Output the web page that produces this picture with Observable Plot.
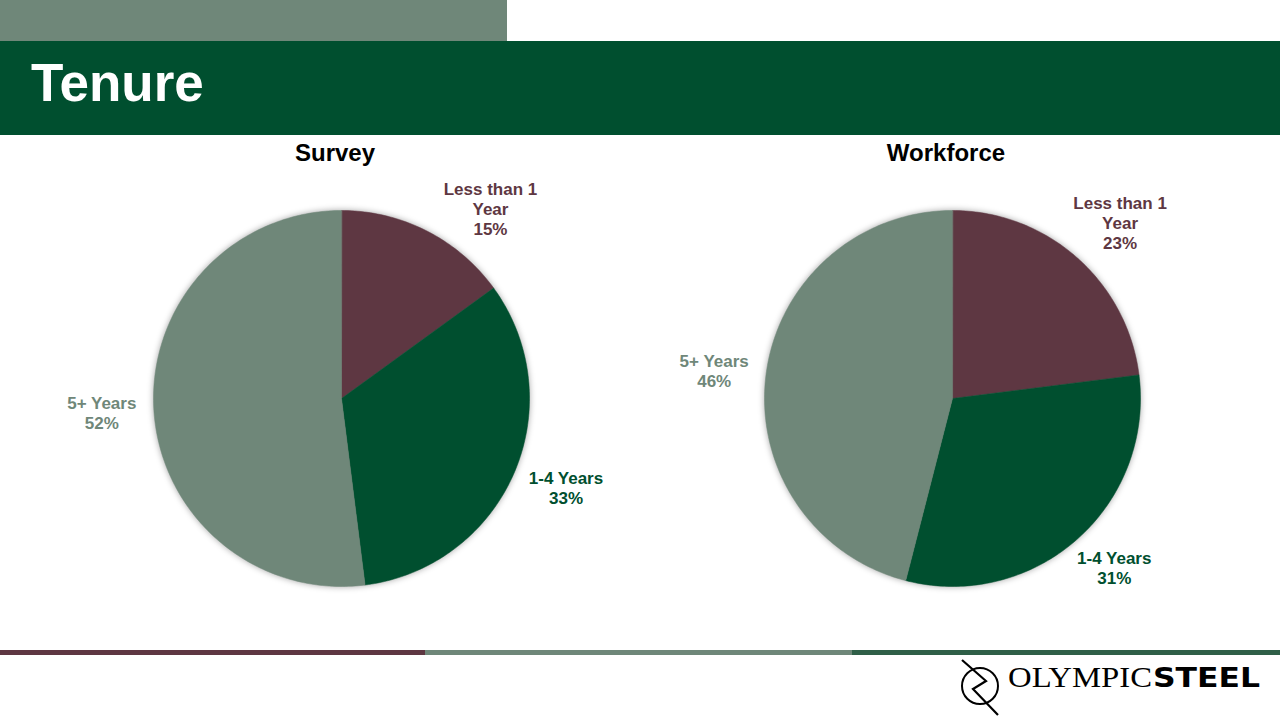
<!DOCTYPE html>
<html>
<head>
<meta charset="utf-8">
<script src="https://cdn.jsdelivr.net/npm/d3@7"></script>
<script src="https://cdn.jsdelivr.net/npm/@observablehq/plot@0.6"></script>
<style>
  html, body { margin: 0; padding: 0; background: #fff; }
  #slide { position: relative; width: 1280px; height: 720px; overflow: hidden; font-family: "Liberation Sans", Arial, sans-serif; }
  .abs { position: absolute; }
  #topbar { left: 0; top: 0; width: 507px; height: 41px; background: #6f8779; }
  #banner { left: 0; top: 41px; width: 1280px; height: 94px; background: #004f2f; }
  #title { left: 31px; top: 51px; color: #fff; font-weight: bold; font-size: 53px; line-height: 64px; }
  .ptitle { top: 138px; width: 300px; text-align: center; font-weight: bold; font-size: 24px; color: #000; line-height: 30px; }
  .pie { top: 138px; }
  .rule { top: 650px; height: 5px; }
</style>
</head>
<body>
<div id="slide">
  <div id="topbar" class="abs"></div>
  <div id="banner" class="abs"></div>
  <div id="title" class="abs">Tenure</div>
  <div id="t1" class="abs ptitle" style="left:185px">Survey</div>
  <div id="t2" class="abs ptitle" style="left:796px">Workforce</div>
  <div id="pie1" class="abs pie" style="left:21px"></div>
  <div id="pie2" class="abs pie" style="left:632px"></div>
  <div class="abs rule" style="left:0;width:425px;background:#5e3742"></div>
  <div class="abs rule" style="left:425px;width:427px;background:#6f8779"></div>
  <div class="abs rule" style="left:852px;width:428px;background:#2f5f48"></div>
  <svg class="abs" style="left:940px;top:655px" width="340" height="65">
    <circle cx="40" cy="31" r="18" fill="none" stroke="#000" stroke-width="2"/>
    <polyline points="22,5 46,26 33,34 58,60" fill="none" stroke="#000" stroke-width="2.2" stroke-linejoin="miter"/>
    <text x="68" y="32" font-family="Liberation Serif, Times New Roman, serif" font-size="30" textLength="144" lengthAdjust="spacingAndGlyphs" fill="#000">OLYMPIC</text>
    <text x="213" y="32" font-family="DejaVu Sans, sans-serif" font-weight="bold" font-size="26" textLength="107" lengthAdjust="spacingAndGlyphs" fill="#000">STEEL</text>
  </svg>
</div>
<script>
// ---- data ----
const categories = ["Less than 1 Year", "1-4 Years", "5+ Years"];
const labelText = ["Less than 1\nYear", "1-4 Years", "5+ Years"];
const surveyValues = [15, 33, 52];
const workforceValues = [23, 31, 46];
const colors = ["#5e3742", "#004f2f", "#6f8779"];

const W = 640, H = 520, R = 188;
const FONT = 17, LINE = 20, CHAR_W = 8.8, GAP = 17;

function pie(values, target) {
  const total = d3.sum(values);
  const slices = [];
  const labels = [];
  let acc = 0;
  values.forEach((v, i) => {
    const a0 = acc / total * 2 * Math.PI;
    acc += v;
    const a1 = acc / total * 2 * Math.PI;
    slices.push({cat: categories[i], x: 0, y: 0});
    const n = Math.max(2, Math.ceil((a1 - a0) / (Math.PI / 180)));
    for (let k = 0; k <= n; k++) {
      const a = a0 + (a1 - a0) * k / n;
      slices.push({cat: categories[i], x: Math.sin(a), y: Math.cos(a)});
    }
    // "outside end" label: box pushed outward from the mid angle; a small slice's label slides clockwise
    let mid = (a0 + a1) / 2;
    if (v / total < 0.2) mid += 9 * Math.PI / 180;
    const text = `${labelText[i]}\n${v}%`;
    const lines = text.split("\n");
    const w = d3.max(lines, s => s.length) * CHAR_W;
    const h = lines.length * LINE;
    const s = Math.sin(mid), c = Math.cos(mid);
    labels.push({
      cat: categories[i], text,
      x: ((R + GAP) * s + s * w / 2) / R,
      y: ((R + GAP) * c + c * h / 2) / R
    });
  });
  const xr = W / 2 / R, yr = H / 2 / R;
  const chart = Plot.plot({
    width: W, height: H,
    margin: 0,
    x: {domain: [-xr, xr], axis: null},
    y: {domain: [-yr, yr], axis: null},
    color: {domain: categories, range: colors},
    style: {background: "transparent", overflow: "visible"},
    marks: [
      Plot.line(slices, {x: "x", y: "y", z: "cat", fill: "cat", stroke: "cat", strokeWidth: 0.5, curve: "linear-closed"}),
      Plot.text(labels, {x: "x", y: "y", text: "text", fill: "cat", fontSize: FONT, fontWeight: "bold", lineHeight: LINE / FONT, lineAnchor: "middle", fontFamily: "Liberation Sans, Arial, sans-serif"})
    ]
  });
  const g = chart.querySelector('g[aria-label="line"]');
  if (g) g.style.filter = "drop-shadow(0px 0px 3px rgba(0,0,0,0.35))";
  document.getElementById(target).appendChild(chart);
}

pie(surveyValues, "pie1");
pie(workforceValues, "pie2");
</script>
</body>
</html>
